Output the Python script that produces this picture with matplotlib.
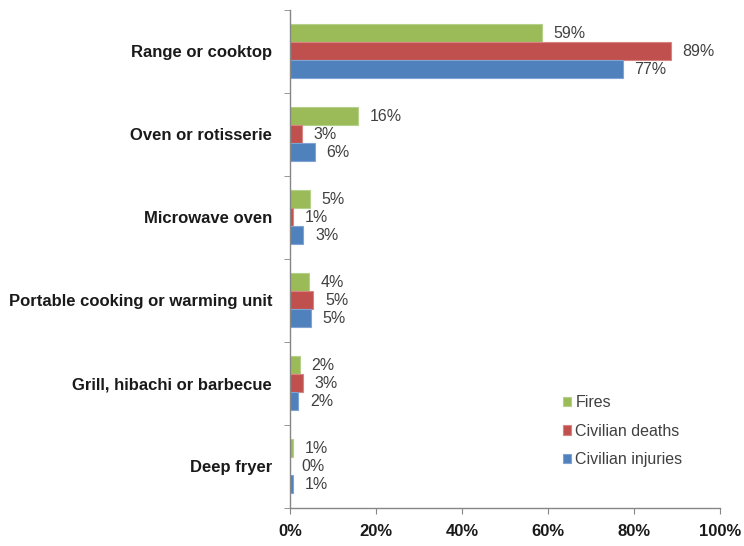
import matplotlib
matplotlib.use("Agg")
import matplotlib.pyplot as plt
import numpy as np
from matplotlib.ticker import FuncFormatter, FixedLocator

categories = ["Range or cooktop", "Oven or rotisserie", "Microwave oven",
              "Portable cooking or warming unit", "Grill, hibachi or barbecue",
              "Deep fryer"]
series_names = ["Fires", "Civilian deaths", "Civilian injuries"]
fires = [58.6, 15.8, 4.5, 4.3, 2.2, 0.6]
deaths = [88.6, 2.8, 0.6, 5.4, 2.9, 0.0]
injuries = [77.4, 5.8, 3.1, 4.8, 1.9, 0.7]
fires_lbl = ["59%", "16%", "5%", "4%", "2%", "1%"]
deaths_lbl = ["89%", "3%", "1%", "5%", "3%", "0%"]
injuries_lbl = ["77%", "6%", "3%", "5%", "2%", "1%"]
xticks = [0, 20, 40, 60, 80, 100]

colors = ["#9BBB59", "#C0504D", "#4F81BD"]
edges = ["#B5D08A", "#D68583", "#7FA3D3"]

plt.rcParams['font.family'] = ['Liberation Sans', 'DejaVu Sans']

fig = plt.figure(figsize=(7.44, 5.46), dpi=100)
ax = fig.add_axes([0.390, 0.070, 0.578, 0.912])

y = np.arange(len(categories))
h = 0.217
data = [fires, deaths, injuries]
labels = [fires_lbl, deaths_lbl, injuries_lbl]
for i, (vals, lbls) in enumerate(zip(data, labels)):
    pos = y + (i - 1) * h
    ax.barh(pos, vals, height=h, color=colors[i], edgecolor=edges[i],
            linewidth=0.8, label=series_names[i])
    for p, v, t in zip(pos, vals, lbls):
        ax.annotate(t, xy=(v, p), xytext=(8.3, 0), textcoords="offset points",
                    ha="left", va="center", fontsize=11.5, color="#404040")

ax.set_xlim(0, 100)
ax.set_ylim(len(categories) - 0.5, -0.5)
ax.xaxis.set_major_locator(FixedLocator(xticks))
ax.xaxis.set_major_formatter(FuncFormatter(lambda v, p: f"{v:.0f}%"))
ax.set_yticks(y)
ax.set_yticklabels(categories, fontsize=12, fontweight="bold", color="#1a1a1a")
ax.yaxis.set_minor_locator(FixedLocator(np.arange(-0.5, len(categories), 1)))
ax.tick_params(axis="y", which="major", length=0, pad=13)
ax.tick_params(axis="y", which="minor", length=4, color="#868686", direction="out")
ax.tick_params(axis="x", length=4, color="#868686", direction="out", pad=8,
               labelsize=12)
for t in ax.get_xticklabels():
    t.set_fontweight("bold")
    t.set_color("#1a1a1a")

for s in ["top", "right"]:
    ax.spines[s].set_visible(False)
for s in ["left", "bottom"]:
    ax.spines[s].set_color("#868686")
    ax.spines[s].set_linewidth(1.0)

leg = ax.legend(loc="upper left", bbox_to_anchor=(0.6, 0.255), frameon=False,
                fontsize=11.5, handlelength=0.55, handleheight=0.55,
                handletextpad=0.25, labelspacing=0.85, labelcolor="#404040")

fig.savefig("out.png", dpi=100)
